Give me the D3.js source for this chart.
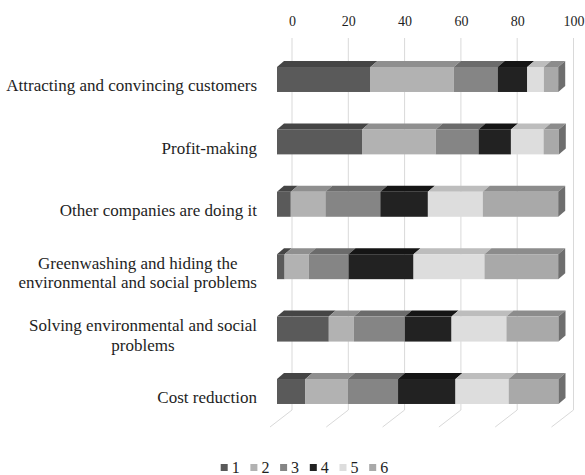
<!DOCTYPE html>
<html>
<head>
<meta charset="utf-8">
<script src="https://cdn.jsdelivr.net/npm/d3@7"></script>
<style>
  html, body { margin: 0; padding: 0; background: #ffffff; }
  svg { display: block; }
  text { font-family: "Liberation Serif", "Times New Roman", serif; fill: #1e1e1e; }
</style>
</head>
<body>
<svg id="chart" width="585" height="475"></svg>
<script>
// Motives, answer shares (%) for ratings 1..6
const categories = [
  "Attracting and convincing customers",
  "Profit-making",
  "Other companies are doing it",
  "Greenwashing and hiding the environmental and social problems",
  "Solving environmental and social problems",
  "Cost reduction"
];
const categoryLines = [
  ["Attracting and convincing customers"],
  ["Profit-making"],
  ["Other companies are doing it"],
  ["Greenwashing and hiding the", "environmental and social problems"],
  ["Solving environmental and social", "problems"],
  ["Cost reduction"]
];
const seriesNames = ["1", "2", "3", "4", "5", "6"];
const rating1 = [33.2, 30.2, 4.9, 2.7, 18.4, 10.1];
const rating2 = [29.6, 26.2, 12.3, 8.6, 8.9, 15.1];
const rating3 = [15.6, 15.2, 19.5, 14.1, 18.1, 17.8];
const rating4 = [10.5, 11.5, 16.9, 23.1, 16.6, 20.4];
const rating5 = [5.9, 11.6, 19.5, 25.2, 19.5, 18.9];
const rating6 = [5.1, 5.4, 26.8, 26.2, 18.5, 17.7];
const series = [rating1, rating2, rating3, rating4, rating5, rating6];
const tickValues = [0, 20, 40, 60, 80, 100];

// Face shades per rating
const frontColors = ["#5a5a5a", "#b2b2b2", "#858585", "#222222", "#dddddd", "#a9a9a9"];
const topColors   = ["#454545", "#8f8f8f", "#6b6b6b", "#151515", "#bdbdbd", "#8c8c8c"];
const sideColor = "#6e6e6e";

const svg = d3.select("#chart");

// Front plane of the bars
const x = d3.scaleLinear().domain([0, 100]).range([277, 558.5]);
const y = d3.scaleBand().domain(categories)
  .range([48.3, 422.7]).paddingInner(0.6).paddingOuter(0.3);

// Depth offsets: bar thickness and back wall
const barDx = 7, barDy = -6;
const wallDx = 15, wallDy = -11;
const floorDx = -7, floorDy = 6;
const wallTop = 38, wallBottom = 410;

// Gridlines on the back wall and across the floor
const grid = svg.append("g");
tickValues.forEach(v => {
  const gx = x(v) + wallDx;
  grid.append("line")
    .attr("x1", gx).attr("x2", gx)
    .attr("y1", wallTop).attr("y2", wallBottom)
    .attr("stroke", "#d9d9d9").attr("stroke-width", 1);
  grid.append("line")
    .attr("x1", gx).attr("y1", wallBottom)
    .attr("x2", x(v) + floorDx).attr("y2", wallBottom - wallDy + floorDy)
    .attr("stroke", "#d9d9d9").attr("stroke-width", 1);
});

// Axis along the top of the wall
const axis = d3.axisTop(d3.scaleLinear().domain([0, 100]).range([x(0) + wallDx, x(100) + wallDx]))
  .tickValues(tickValues).tickSize(0).tickPadding(0);
const axisG = svg.append("g").attr("transform", "translate(0,26)").call(axis);
axisG.select(".domain").remove();
axisG.selectAll("text")
  .attr("dy", 0)
  .style("font-family", "'Liberation Serif', serif")
  .style("font-size", "14px")
  .attr("fill", "#1e1e1e");

// Stacked 3D bars
const bars = svg.append("g");
categories.forEach((cat, i) => {
  const y0 = y(cat), h = y.bandwidth();
  let cum = 0;
  series.forEach((vals, j) => {
    const v = vals[i];
    const xa = x(cum), xb = x(cum + v);
    cum += v;
    const g = bars.append("g");
    g.append("polygon")
      .attr("points", [[xa, y0], [xb, y0], [xb + barDx, y0 + barDy], [xa + barDx, y0 + barDy]].join(" "))
      .attr("fill", topColors[j]);
    g.append("rect")
      .attr("x", xa).attr("y", y0)
      .attr("width", xb - xa).attr("height", h)
      .attr("fill", frontColors[j]);
    if (j === series.length - 1) {
      g.append("polygon")
        .attr("points", [[xb, y0], [xb + barDx, y0 + barDy], [xb + barDx, y0 + h + barDy], [xb, y0 + h]].join(" "))
        .attr("fill", sideColor);
    }
  });
});

// Category labels: right-aligned block, lines centred within it
const labelRight = 257;
const lineGap = 19.5;
const labels = svg.append("g").style("font-size", "17px");
categories.forEach((cat, i) => {
  const lines = categoryLines[i];
  const cy = y(cat) + y.bandwidth() / 2 + 6;
  const g = labels.append("g");
  const texts = lines.map((ln, k) => g.append("text")
    .text(ln)
    .attr("y", cy + (k - (lines.length - 1) / 2) * lineGap)
    .attr("dy", "0.35em"));
  const widths = texts.map(t => t.node().getComputedTextLength());
  const maxW = d3.max(widths);
  texts.forEach(t => t.attr("x", labelRight - maxW / 2).attr("text-anchor", "middle"));
});

// Legend
const legend = svg.append("g");
seriesNames.forEach((name, j) => {
  const lx = 220.7 + j * 29.7;
  legend.append("rect")
    .attr("x", lx).attr("y", 464)
    .attr("width", 7).attr("height", 7)
    .attr("fill", frontColors[j]);
  legend.append("text")
    .attr("x", lx + 11).attr("y", 473)
    .style("font-size", "16px")
    .text(name);
});
</script>
</body>
</html>
